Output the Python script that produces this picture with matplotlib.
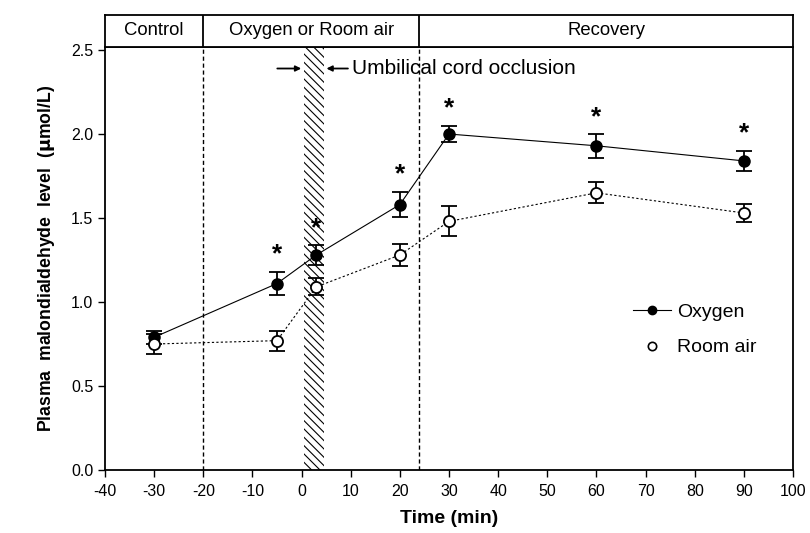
import matplotlib.pyplot as plt
from matplotlib.lines import Line2D

plt.rcParams['font.family'] = ['Liberation Sans', 'DejaVu Sans']
plt.rcParams['axes.unicode_minus'] = False

# data
time = [-30, -5, 3, 20, 30, 60, 90]
oxygen = [0.79, 1.11, 1.28, 1.58, 2.00, 1.93, 1.84]
oxygen_err = [0.04, 0.07, 0.06, 0.076, 0.05, 0.07, 0.06]
room_air = [0.75, 0.77, 1.09, 1.28, 1.48, 1.65, 1.53]
room_air_err = [0.06, 0.06, 0.05, 0.067, 0.09, 0.063, 0.054]
star_times = [-5, 3, 20, 30, 60, 90]

phases = ['Control', 'Oxygen or Room air', 'Recovery']
phase_edges = [-40, -20, 24, 100]
occlusion = (0.5, 4.5)

fig = plt.figure(figsize=(8.1, 5.33), dpi=100)
ax = fig.add_axes([0.1296, 0.1182, 0.8494, 0.7936])
hdr = fig.add_axes([0.1296, 0.9118, 0.8494, 0.0601])

# hatched occlusion band
plt.rcParams['hatch.linewidth'] = 0.8
ax.axvspan(occlusion[0], occlusion[1], facecolor='white', edgecolor='black',
           hatch='\\\\\\\\', lw=0, zorder=1)

# phase boundaries
for xv in phase_edges[1:-1]:
    ax.axvline(xv, color='black', ls=(0, (3, 2)), lw=1, zorder=1)

ax.errorbar(time, oxygen, yerr=oxygen_err, fmt='-o', color='black', lw=0.8,
            ms=8, mfc='black', mec='black', capsize=6, elinewidth=1.3,
            capthick=1.3, zorder=3)
ax.errorbar(time, room_air, yerr=room_air_err, fmt='o', color='black',
            ms=8, mfc='white', mec='black', mew=1.3, capsize=6,
            elinewidth=1.3, capthick=1.3, zorder=3)
ax.plot(time, room_air, ls=(0, (2, 2)), color='black', lw=0.8, zorder=2)

for t in star_times:
    i = time.index(t)
    ax.text(t, oxygen[i] + oxygen_err[i] + 0.03, '*', ha='center', va='bottom',
            fontsize=19, fontweight='bold')

# occlusion annotation
ax.annotate('', xy=(occlusion[0], 2.39), xytext=(-5.5, 2.39),
            arrowprops=dict(arrowstyle='-|>', color='black', lw=1.3, mutation_scale=8))
ax.annotate('', xy=(occlusion[1], 2.39), xytext=(10, 2.39),
            arrowprops=dict(arrowstyle='-|>', color='black', lw=1.3, mutation_scale=8))
ax.text(10.2, 2.39, 'Umbilical cord occlusion', va='center', ha='left', fontsize=15)

ax.set_xlim(-40, 100)
ax.set_ylim(0, 2.518)
ax.set_xticks(range(-40, 101, 10))
ax.set_yticks([0.0, 0.5, 1.0, 1.5, 2.0, 2.5])
ax.set_yticklabels(['0.0', '0.5', '1.0', '1.5', '2.0', '2.5'])
ax.tick_params(direction='out', length=5, width=1, labelsize=11.5)
ax.tick_params(axis='x', pad=5)
for s in ax.spines.values():
    s.set_linewidth(1.3)
ax.set_xlabel('Time (min)', fontsize=14, fontweight='bold', labelpad=8)
ax.set_ylabel('Plasma  malondialdehyde  level  ($\\mathbf{\\mu}$mol/L)',
              fontsize=12.7, fontweight='bold', labelpad=10)

handles = [Line2D([], [], color='black', lw=0.8, marker='o', ms=6, mfc='black'),
           Line2D([], [], color='none', marker='o', ms=6, mfc='white', mec='black', mew=1.2)]
ax.legend(handles, ['Oxygen', 'Room air'], loc='center left',
          bbox_to_anchor=(0.767, 0.331), frameon=False, fontsize=14,
          handlelength=1.96, handletextpad=0.31, labelspacing=0.9,
          borderaxespad=0, borderpad=0)

# header box with phase names
hdr.set_xlim(-40, 100)
hdr.set_ylim(0, 1)
hdr.set_xticks([])
hdr.set_yticks([])
for s in hdr.spines.values():
    s.set_linewidth(1.3)
for xv in phase_edges[1:-1]:
    hdr.axvline(xv, color='black', lw=1.3)
for name, a, b in zip(phases, phase_edges[:-1], phase_edges[1:]):
    hdr.text((a + b) / 2, 0.5, name, ha='center', va='center', fontsize=13.3)

fig.savefig('out.png', dpi=100)
